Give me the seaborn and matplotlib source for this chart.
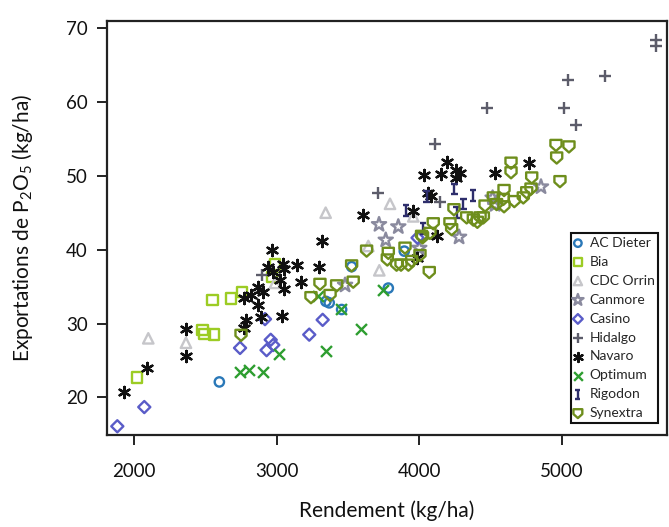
import numpy as np
import pandas as pd
import matplotlib
matplotlib.use("Agg")
import matplotlib.pyplot as plt
from matplotlib.path import Path
import seaborn as sns

# ---------------- data ----------------
ac_dieter_x = [2598, 3345, 3368, 3455, 3525, 3782, 3894]
ac_dieter_y = [22.1, 33.0, 32.8, 31.9, 37.7, 34.8, 39.8]

bia_x = [2019, 2481, 2493, 2561, 2549, 2678, 2755, 2965, 2988]
bia_y = [22.7, 29.1, 28.6, 28.5, 33.2, 33.4, 34.3, 36.3, 38.0]

cdc_orrin_x = [2100, 2364, 2988, 3343, 3642, 3719, 3794, 3957]
cdc_orrin_y = [28.0, 27.4, 35.5, 45.0, 40.5, 37.2, 46.2, 44.5]

canmore_x = [3479, 3717, 3764, 3852, 3999, 4278, 4513, 4530, 4852]
canmore_y = [35.2, 43.4, 41.3, 43.1, 40.2, 41.7, 47.0, 46.1, 48.5]

casino_x = [1883, 2072, 2743, 2929, 2958, 2976, 2918, 3228, 3322, 3987]
casino_y = [16.1, 18.7, 26.7, 26.4, 27.8, 27.1, 30.6, 28.5, 30.5, 41.6]

hidalgo_x = [2897, 3710, 4109, 4144, 4474, 5013, 5041, 5097, 5299, 5655, 5660]
hidalgo_y = [36.6, 47.6, 54.3, 46.5, 59.2, 59.1, 63.0, 56.8, 63.5, 67.6, 68.4]

navaro_x = [1930, 2089, 2362, 2364, 2771, 2818, 2870, 2872, 2785, 2773, 2965,
            2941, 2976, 3046, 3051, 3144, 3023, 3054, 3168, 3293, 3315, 2902,
            2888, 3035, 3602, 3957, 3980, 4191, 4032, 4149, 4256, 4284, 4256,
            4530, 4768, 4058, 4079, 4125]
navaro_y = [20.8, 24.0, 25.6, 29.3, 33.5, 33.8, 35.0, 32.5, 30.5, 29.4, 39.9,
            37.7, 37.0, 38.0, 37.4, 37.9, 35.9, 34.7, 35.6, 37.6, 41.2, 34.3,
            30.9, 31.0, 44.7, 45.2, 38.9, 51.9, 50.1, 50.2, 50.8, 50.4, 49.7,
            50.4, 51.7, 47.7, 47.3, 41.9]

optimum_x = [2743, 2808, 2902, 3018, 3345, 3591, 3287, 3451, 3746]
optimum_y = [23.4, 23.7, 23.5, 25.9, 26.3, 29.3, 33.7, 32.0, 34.6]

rigodon_x = [3906, 4023, 4050, 4245, 4261, 4308, 4374]
rigodon_y = [45.3, 42.9, 47.2, 48.2, 45.0, 46.2, 47.3]

synextra_x = [2750, 3240, 3303, 3374, 3420, 3536, 3525, 3630, 3782, 3775,
              3840, 3899, 3923, 3946, 3871, 4004, 4022, 4069, 4015, 4074,
              4097, 4214, 4226, 4242, 4331, 4378, 4406, 4425, 4448, 4460,
              4518, 4541, 4588, 4593, 4593, 4665, 4728, 4752, 4782, 4787,
              4642, 4642, 4957, 5048, 4962, 4985]
synextra_y = [28.4, 33.5, 35.3, 33.8, 35.1, 35.6, 37.8, 39.8, 39.5, 38.6,
              37.9, 40.2, 37.9, 38.4, 37.9, 39.2, 41.6, 36.9, 41.8, 42.2,
              43.5, 43.5, 42.7, 45.4, 44.3, 44.0, 43.7, 44.3, 44.3, 45.9,
              47.0, 46.1, 46.8, 48.0, 45.8, 46.5, 47.0, 47.7, 48.2, 49.7,
              51.7, 50.4, 54.1, 53.9, 52.4, 49.2]

x_ticks = [2000, 3000, 4000, 5000]
y_ticks = [20, 30, 40, 50, 60, 70]

# ---------------- style ----------------
sns.set_theme(style="ticks")
plt.rcParams["font.family"] = ["Lato", "DejaVu Sans"]
plt.rcParams["mathtext.default"] = "regular"

shield = Path([(-1, 1), (1, 1), (1, -0.1), (0, -1), (-1, -0.1), (-1, 1)],
              [Path.MOVETO, Path.LINETO, Path.LINETO, Path.LINETO, Path.LINETO,
               Path.CLOSEPOLY])
ibeam = Path([(-0.6, 1), (0.6, 1), (0, 1), (0, -1), (-0.6, -1), (0.6, -1)],
             [Path.MOVETO, Path.LINETO, Path.MOVETO, Path.LINETO,
              Path.MOVETO, Path.LINETO])

# name, x, y, marker, color, filled-outline?, size
series = [
    ("AC Dieter", ac_dieter_x, ac_dieter_y, "o", "#2a78b8", True, 45),
    ("Bia", bia_x, bia_y, "s", "#9ccc24", True, 56),
    ("CDC Orrin", cdc_orrin_x, cdc_orrin_y, "^", "#c6c6ca", True, 56),
    ("Canmore", canmore_x, canmore_y, "*", "#8a8a9e", True, 115),
    ("Casino", casino_x, casino_y, "D", "#5a5cc8", True, 38),
    ("Hidalgo", hidalgo_x, hidalgo_y, "+", "#5c5c6a", False, 75),
    ("Navaro", navaro_x, navaro_y, (6, 2, 0), "#111111", False, 65),
    ("Optimum", optimum_x, optimum_y, "x", "#2e9e30", False, 62),
    ("Rigodon", rigodon_x, rigodon_y, ibeam, "#2e2e6c", True, 58),
    ("Synextra", synextra_x, synextra_y, shield, "#6e8e1c", True, 64),
]

fig = plt.figure(figsize=(6.69, 5.27), dpi=100)
ax = fig.add_axes([0.160, 0.175, 0.837, 0.786])

for name, xs, ys, m, c, outline, s in series:
    df = pd.DataFrame({"x": xs, "y": ys})
    if outline:
        sns.scatterplot(data=df, x="x", y="y", marker=m, s=s, facecolor="none",
                        edgecolor=c, linewidth=1.7, label=name, ax=ax)
    else:
        sns.scatterplot(data=df, x="x", y="y", marker=m, s=s, color=c,
                        linewidth=1.7, label=name, ax=ax)

ax.set_xlim(1811, 5735)
ax.set_ylim(14.95, 71.0)
ax.set_xticks(x_ticks)
ax.set_yticks(y_ticks)
ax.tick_params(axis="both", direction="out", length=7, width=1.4,
               color="#222222", labelsize=13.5, labelcolor="#111111")
ax.tick_params(axis="x", pad=13)
ax.tick_params(axis="y", pad=7)
for sp in ax.spines.values():
    sp.set_visible(True)
    sp.set_linewidth(1.6)
    sp.set_color("#222222")

ax.set_xlabel("Rendement (kg/ha)", fontsize=15, labelpad=15, color="#111111")
ax.set_ylabel("Exportations de P$_2$O$_5$ (kg/ha)", fontsize=15, labelpad=22,
              color="#111111")

leg = ax.legend(loc="lower right", bbox_to_anchor=(0.984, 0.029), fontsize=10,
                frameon=True, fancybox=False, edgecolor="#111111",
                framealpha=1, borderpad=0.25, labelspacing=0.5,
                handlelength=0.5, handletextpad=0.6, borderaxespad=0,
                markerscale=0.8)
leg.get_frame().set_linewidth(1.5)

fig.savefig("out.png", dpi=100)
